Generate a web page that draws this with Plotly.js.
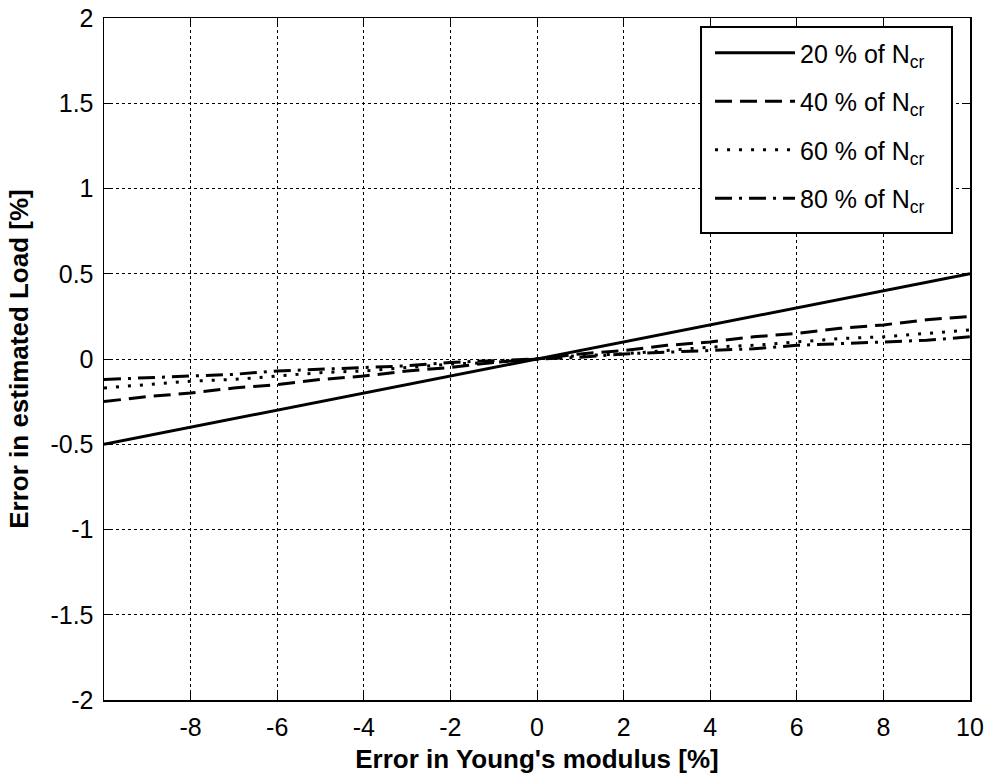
<!DOCTYPE html>
<html>
<head>
<meta charset="utf-8">
<script src="https://cdn.plot.ly/plotly-3.0.1.min.js"></script>
<style>html,body{margin:0;padding:0;background:#fff;}#chart{width:987px;height:776px;}</style>
</head>
<body>
<div id="chart"></div>
<script>
// Error in Young's modulus [%]
var youngErr = [-10,-9,-8,-7,-6,-5,-4,-3,-2,-1,0,1,2,3,4,5,6,7,8,9,10];
// Error in estimated load [%] for each load level
var load20 = [-0.5,-0.45,-0.4,-0.35,-0.3,-0.25,-0.2,-0.15,-0.1,-0.05,0,0.05,0.1,0.15,0.2,0.25,0.3,0.35,0.4,0.45,0.5];
var load40 = [-0.25,-0.22,-0.2,-0.17,-0.15,-0.12,-0.1,-0.07,-0.05,-0.02,0,0.03,0.05,0.08,0.1,0.13,0.15,0.18,0.2,0.23,0.25];
var load60 = [-0.17,-0.15,-0.13,-0.12,-0.1,-0.08,-0.07,-0.05,-0.03,-0.02,0,0.02,0.03,0.05,0.07,0.08,0.1,0.12,0.13,0.15,0.17];
var load80 = [-0.12,-0.11,-0.1,-0.09,-0.07,-0.06,-0.05,-0.04,-0.02,-0.01,0,0.01,0.03,0.04,0.05,0.06,0.08,0.09,0.1,0.11,0.13];
var seriesNames = ['20 % of N<sub>cr</sub>','40 % of N<sub>cr</sub>','60 % of N<sub>cr</sub>','80 % of N<sub>cr</sub>'];
var xTickVals = [-8,-6,-4,-2,0,2,4,6,8,10];
var xTickText = ['-8','-6','-4','-2','0','2','4','6','8','10'];
var yTickVals = [-2,-1.5,-1,-0.5,0,0.5,1,1.5,2];
var yTickText = ['-2','-1.5','-1','-0.5','0','0.5','1','1.5','2'];

var dashes = ['solid','17px,8px','3px,9px','17px,7px,3px,7px'];
var ys = [load20, load40, load60, load80];
var traces = ys.map(function(y, i){
  return {x: youngErr, y: y, type:'scatter', mode:'lines', name: seriesNames[i],
    legendgroup:'g'+i,
    line:{color:'#000', width:3, dash: dashes[i]}};
});

var fam = '"Liberation Sans", Arial, sans-serif';
var font = {family:fam, size:25, color:'#000'};
var titleFont = {family:fam, size:26, color:'#000', weight:'bold'};
var axisCommon = {
  showgrid:true, gridcolor:'#000', gridwidth:1, griddash:'dot',
  showline:true, linecolor:'#000', linewidth:1.5, mirror:'ticks',
  ticks:'inside', ticklen:7, tickcolor:'#000', tickwidth:1,
  zeroline:false, tickfont:font, ticklabelstandoff:4
};
var layout = {
  width:987, height:776,
  margin:{l:104, r:17, t:18, b:76},
  paper_bgcolor:'#fff', plot_bgcolor:'#fff',
  font: font,
  showlegend:true,
  legend:{x:0.6998, y:0.9824, xanchor:'left', yanchor:'top', bgcolor:'rgba(0,0,0,0)',
    borderwidth:0, font:font, itemwidth:80, tracegroupgap:13},
  shapes:[{type:'rect', xref:'paper', yref:'paper', x0:0.6894, x1:0.9792, y0:0.6848, y1:0.9868,
    line:{color:'#000', width:2}, fillcolor:'#fff', layer:'above'}],
  xaxis: Object.assign({}, axisCommon, {range:[-10,10], tickmode:'array', tickvals:xTickVals, ticktext:xTickText,
    title:{text:"Error in Young's modulus [%]", font:titleFont, standoff:10}}),
  yaxis: Object.assign({}, axisCommon, {range:[-2,2], tickmode:'array', tickvals:yTickVals, ticktext:yTickText,
    title:{text:'Error in estimated Load [%]', font:titleFont, standoff:14}})
};
Plotly.newPlot('chart', traces, layout, {displayModeBar:false, staticPlot:true});
</script>
</body>
</html>
